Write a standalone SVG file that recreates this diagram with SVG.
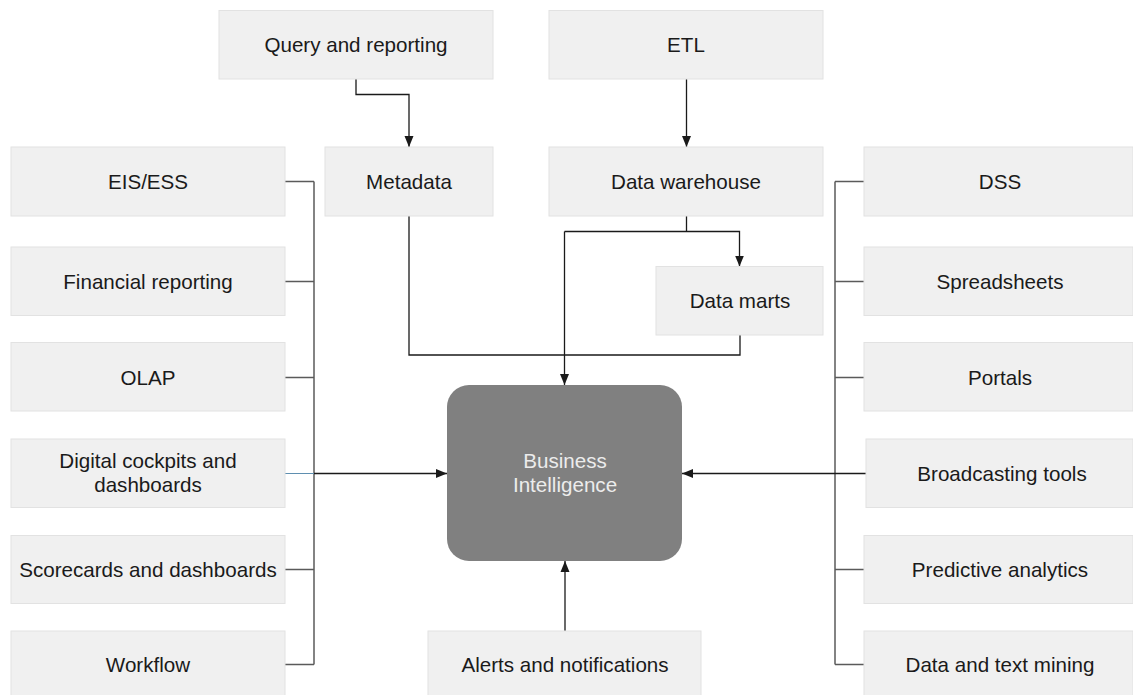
<svg xmlns="http://www.w3.org/2000/svg" width="1133" height="695" viewBox="0 0 1133 695">
  <style>
    .box { fill: #f0f0f0; stroke: #e2e2e2; stroke-width: 1; }
    .lbl { font-family: "Liberation Sans", Arial, sans-serif; font-size: 20.6px; fill: #1a1a1a; text-anchor: middle; }
    .core { fill: #808080; }
    .coreLbl { font-family: "Liberation Sans", Arial, sans-serif; font-size: 20.6px; fill: #ececec; text-anchor: middle; }
    .bus { fill: none; stroke: #5a5a5a; stroke-width: 1.5; }
    .flow { fill: none; stroke: #1a1a1a; stroke-width: 1.3; }
    .tap { fill: none; stroke: #5f8fb0; stroke-width: 1; }
  </style>
  <defs>
    <marker id="arrow" markerUnits="userSpaceOnUse" markerWidth="11" markerHeight="10" refX="11" refY="5" orient="auto">
      <path d="M0,0.5 L11,5 L0,9.5 Z" fill="#1a1a1a"/>
    </marker>
  </defs>
  <rect width="1133" height="695" fill="#ffffff"/>

  <!-- connectors -->
  <g id="connectors">
    <path class="flow" d="M356 79 V94.5 H409 V147" marker-end="url(#arrow)"/>
    <path class="flow" d="M686.5 79 V147" marker-end="url(#arrow)"/>
    <path class="flow" d="M686.5 216 V231.5"/>
    <path class="flow" d="M564.5 231.5 H739.5 V266.5" marker-end="url(#arrow)"/>
    <path class="flow" d="M564.5 231.5 V385" marker-end="url(#arrow)"/>
    <path class="flow" d="M409 216 V355 H740 V335"/>
    <!-- left bus -->
    <path class="bus" d="M314 181.5 V664.5"/>
    <path class="bus" d="M285 181.5 H314 M285 281.5 H314 M285 377.5 H314 M285 569.5 H314 M285 664.5 H314"/>
    <path class="tap" d="M285 473.5 H314"/>
    <path class="flow" d="M314 473.5 H447" marker-end="url(#arrow)"/>
    <!-- right bus -->
    <path class="bus" d="M835 181.5 V664.5"/>
    <path class="bus" d="M835 181.5 H864 M835 281.5 H864 M835 377.5 H864 M835 569.5 H864 M835 664.5 H864"/>
    <path class="flow" d="M866 473.5 H682" marker-end="url(#arrow)"/>
    <!-- alerts -->
    <path class="flow" d="M565 631 V561" marker-end="url(#arrow)"/>
  </g>

  <!-- top row -->
  <g id="query-reporting">
    <rect class="box" x="219" y="10.5" width="274" height="68.5"/>
    <text class="lbl" x="356" y="52">Query and reporting</text>
  </g>
  <g id="etl">
    <rect class="box" x="549" y="10.5" width="274" height="68.5"/>
    <text class="lbl" x="686" y="52">ETL</text>
  </g>
  <g id="metadata">
    <rect class="box" x="325" y="147" width="168" height="69"/>
    <text class="lbl" x="409" y="188.5">Metadata</text>
  </g>
  <g id="data-warehouse">
    <rect class="box" x="549" y="147" width="274" height="69"/>
    <text class="lbl" x="686" y="188.5">Data warehouse</text>
  </g>
  <g id="data-marts">
    <rect class="box" x="656" y="266.5" width="167" height="68.5"/>
    <text class="lbl" x="740" y="307.5">Data marts</text>
  </g>

  <!-- left column -->
  <g id="eis-ess">
    <rect class="box" x="11" y="147" width="274" height="69"/>
    <text class="lbl" x="148" y="188.5">EIS/ESS</text>
  </g>
  <g id="financial-reporting">
    <rect class="box" x="11" y="247" width="274" height="68.5"/>
    <text class="lbl" x="148" y="288.5">Financial reporting</text>
  </g>
  <g id="olap">
    <rect class="box" x="11" y="342.5" width="274" height="68.5"/>
    <text class="lbl" x="148" y="384.5">OLAP</text>
  </g>
  <g id="digital-cockpits">
    <rect class="box" x="11" y="439" width="274" height="68.5"/>
    <text class="lbl" x="148" y="468">Digital cockpits and</text>
    <text class="lbl" x="148" y="492">dashboards</text>
  </g>
  <g id="scorecards">
    <rect class="box" x="11" y="535.5" width="274" height="68"/>
    <text class="lbl" x="148" y="576.5">Scorecards and dashboards</text>
  </g>
  <g id="workflow">
    <rect class="box" x="11" y="631" width="274" height="70"/>
    <text class="lbl" x="148" y="671.5">Workflow</text>
  </g>

  <!-- centre -->
  <g id="business-intelligence">
    <rect class="core" x="447" y="385" width="235" height="176" rx="22" ry="22"/>
    <text class="coreLbl" x="565" y="467.5">Business</text>
    <text class="coreLbl" x="565" y="492">Intelligence</text>
  </g>
  <g id="alerts">
    <rect class="box" x="428" y="631" width="273" height="70"/>
    <text class="lbl" x="565" y="671.5">Alerts and notifications</text>
  </g>

  <!-- right column -->
  <g id="dss">
    <rect class="box" x="864" y="147" width="269" height="69"/>
    <text class="lbl" x="1000" y="188.5">DSS</text>
  </g>
  <g id="spreadsheets">
    <rect class="box" x="864" y="247" width="269" height="68.5"/>
    <text class="lbl" x="1000" y="288.5">Spreadsheets</text>
  </g>
  <g id="portals">
    <rect class="box" x="864" y="342.5" width="269" height="68.5"/>
    <text class="lbl" x="1000" y="384.5">Portals</text>
  </g>
  <g id="broadcasting">
    <rect class="box" x="866" y="439" width="267" height="68.5"/>
    <text class="lbl" x="1002" y="480.5">Broadcasting tools</text>
  </g>
  <g id="predictive-analytics">
    <rect class="box" x="864" y="535.5" width="269" height="68"/>
    <text class="lbl" x="1000" y="576.5">Predictive analytics</text>
  </g>
  <g id="text-mining">
    <rect class="box" x="864" y="631" width="269" height="70"/>
    <text class="lbl" x="1000" y="671.5">Data and text mining</text>
  </g>
</svg>
